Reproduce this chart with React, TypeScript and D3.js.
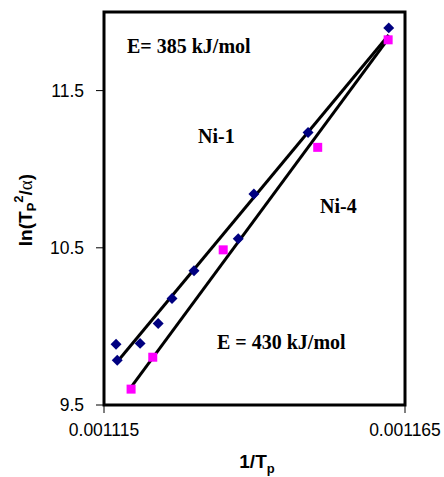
import React from 'react';
import * as d3 from 'd3';

// Ni-1 series (diamonds)
const ni1X = [0.001117, 0.0011172, 0.001121, 0.001124, 0.0011263, 0.00112995, 0.0011373, 0.0011399, 0.0011489, 0.0011623];
const ni1Y = [9.886, 9.785, 9.892, 10.019, 10.177, 10.354, 10.557, 10.842, 11.234, 11.899];

// Ni-4 series (squares)
const ni4X = [0.0011195, 0.0011231, 0.0011348, 0.0011505, 0.0011622];
const ni4Y = [9.601, 9.804, 10.487, 11.139, 11.823];

// fitted lines (end points)
const fit1X = [0.001117, 0.0011623];
const fit1Y = [9.766, 11.854];
const fit4X = [0.0011195, 0.0011622];
const fit4Y = [9.614, 11.829];

const xTicks = [0.001115, 0.001165];
const yTicks = [9.5, 10.5, 11.5];

const W = 444;
const H = 477;
const margin = { top: 12, right: 39, bottom: 72, left: 104 };

const serif = '"Liberation Serif", "Times New Roman", serif';
const sans = '"Liberation Sans", Arial, sans-serif';

export default function App() {
  const x = d3.scaleLinear().domain([0.001115, 0.001165]).range([margin.left, W - margin.right]);
  const y = d3.scaleLinear().domain([9.5, 12]).range([H - margin.bottom, margin.top]);

  const line = d3.line<[number, number]>()
    .x(d => x(d[0]))
    .y(d => y(d[1]));

  const fit1 = fit1X.map((v, i) => [v, fit1Y[i]] as [number, number]);
  const fit4 = fit4X.map((v, i) => [v, fit4Y[i]] as [number, number]);

  // square turned by 45 degrees
  const diamond = d3.symbol().type(d3.symbolSquare).size(60)() as string;

  const [x0, x1] = x.range();
  const [y0, y1] = y.range();

  return (
    <svg width={W} height={H} style={{ position: 'absolute', left: 0, top: 0, background: '#fff' }}>
      {/* ticks */}
      {yTicks.map(t => (
        <g key={'y' + t}>
          <line x1={x0 - 8} x2={x0} y1={y(t)} y2={y(t)} stroke="#000" strokeWidth={1} />
          <text x={x0 - 20} y={y(t)} dy="0.36em" textAnchor="end" fontFamily={sans} fontSize={17.5} fill="#000">
            {t}
          </text>
        </g>
      ))}
      {xTicks.map(t => (
        <g key={'x' + t}>
          <line x1={x(t)} x2={x(t)} y1={y0} y2={y0 + 8} stroke="#000" strokeWidth={1} />
          <text x={x(t)} y={y0 + 31} textAnchor="middle" fontFamily={sans} fontSize={17.5} fill="#000">
            {d3.format('.6f')(t)}
          </text>
        </g>
      ))}

      {/* frame */}
      <rect x={x0} y={y1} width={x1 - x0} height={y0 - y1} fill="none" stroke="#000" strokeWidth={3} />

      {/* fitted lines */}
      <path d={line(fit1) || ''} fill="none" stroke="#000" strokeWidth={3} />
      <path d={line(fit4) || ''} fill="none" stroke="#000" strokeWidth={3} />

      {/* points */}
      {ni1X.map((v, i) => (
        <path key={'a' + i} d={diamond} transform={`translate(${x(v)},${y(ni1Y[i])}) rotate(45)`} fill="#000080" />
      ))}
      {ni4X.map((v, i) => (
        <rect key={'b' + i} x={x(v) - 4.5} y={y(ni4Y[i]) - 4.5} width={9} height={9} fill="#ff00ff" />
      ))}

      {/* annotations */}
      <text x={127} y={53} fontFamily={serif} fontWeight="bold" fontSize={20} fill="#000">E= 385 kJ/mol</text>
      <text x={198} y={143} fontFamily={serif} fontWeight="bold" fontSize={20} fill="#000">Ni-1</text>
      <text x={320} y={213} fontFamily={serif} fontWeight="bold" fontSize={20} fill="#000">Ni-4</text>
      <text x={217} y={349} fontFamily={serif} fontWeight="bold" fontSize={20} fill="#000">E = 430 kJ/mol</text>

      {/* axis titles */}
      <text x={257} y={468} textAnchor="middle" fontFamily={sans} fontWeight="bold" fontSize={19} fill="#000">
        1/T<tspan fontSize={13} dy={5}>p</tspan>
      </text>
      <text transform="translate(32,210) rotate(-90)" textAnchor="middle" fontFamily={sans} fontWeight="bold" fontSize={19} fill="#000">
        ln(T<tspan fontSize={13} dy={4}>P</tspan><tspan fontSize={13} dy={-13}>2</tspan><tspan dy={9}>/</tspan><tspan fontFamily={serif} fontWeight="normal">α</tspan>)
      </text>
    </svg>
  );
}
